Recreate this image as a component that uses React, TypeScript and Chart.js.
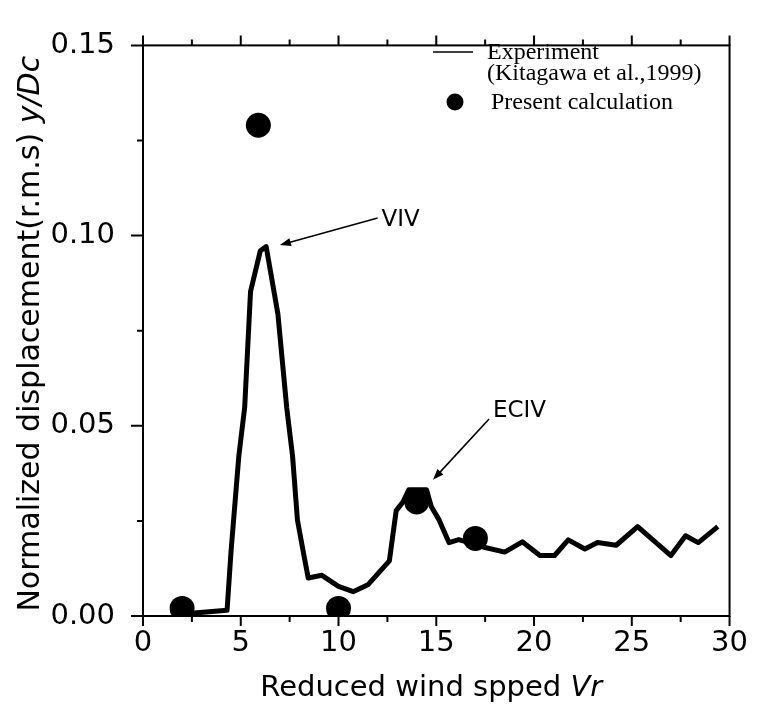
import React, { useEffect, useRef } from 'react';
import { Chart, registerables } from 'chart.js';

Chart.register(...registerables);

// Experiment (Kitagawa et al., 1999)
const expX = [2.0, 4.3, 4.5, 4.9, 5.2, 5.5, 6.0, 6.3, 6.9, 7.35, 7.65, 7.9, 8.2, 8.45, 9.15, 10.0, 10.75, 11.5, 12.6, 12.95, 13.3, 13.6, 14.5, 14.75, 15.15, 15.65, 16.15, 16.9, 17.5, 18.5, 19.4, 20.3, 21.05, 21.75, 22.6, 23.25, 24.2, 25.3, 27.0, 27.75, 28.4, 29.4];
const expY = [0.0005, 0.0015, 0.0168, 0.042, 0.0548, 0.0853, 0.096, 0.0971, 0.0794, 0.0548, 0.042, 0.0252, 0.0168, 0.010, 0.0107, 0.0078, 0.0064, 0.0082, 0.0145, 0.0277, 0.030, 0.0332, 0.0332, 0.0287, 0.0252, 0.0193, 0.0201, 0.019, 0.018, 0.0168, 0.0195, 0.0159, 0.0159, 0.020, 0.0176, 0.0193, 0.0186, 0.0235, 0.0159, 0.0211, 0.0193, 0.0235];

// Present calculation
const calcX = [2, 5.9, 10, 14, 17];
const calcY = [0.002, 0.129, 0.002, 0.030, 0.0204];

const xRange = [0, 30];
const yRange = [0, 0.15];
const xMajorStep = 5;
const xMinorStep = 2.5;
const yMajorStep = 0.05;
const yMinorStep = 0.025;

const legendLabels = ['Experiment', '(Kitagawa et al.,1999)', 'Present calculation'];

// annotation arrows (data units)
const annotTexts = ['VIV', 'ECIV'];
const annotFrom = [[12.0, 0.1046], [17.7, 0.0518]];
const annotTo = [[7.0, 0.0975], [14.83, 0.0358]];
const annotLabelAt = [[12.2, 0.1042], [17.9, 0.0540]];

const yTitleParts = [['Normalized displacement(r.m.s) ', false], ['y/Dc', true]] as [string, boolean][];
const xTitleParts = [['Reduced wind spped ', false], ['Vr', true]] as [string, boolean][];

const SANS = '"DejaVu Sans", sans-serif';
const SERIF = '"Liberation Serif", "Times New Roman", serif';

function drawMixed(ctx: CanvasRenderingContext2D, parts: [string, boolean][], size: number, cx: number, cy: number) {
  const fontOf = (it: boolean) => `${it ? 'italic ' : ''}${size}px ${SANS}`;
  let total = 0;
  const widths = parts.map(([t, it]) => {
    ctx.font = fontOf(it);
    const w = ctx.measureText(t).width;
    total += w;
    return w;
  });
  let x = cx - total / 2;
  ctx.textBaseline = 'middle';
  ctx.textAlign = 'left';
  parts.forEach(([t, it], i) => {
    ctx.font = fontOf(it);
    ctx.fillText(t, x, cy);
    x += widths[i];
  });
}

const framePlugin = {
  id: 'framePlugin',
  afterDraw(chart: any) {
    const ctx: CanvasRenderingContext2D = chart.ctx;
    const { left, right, top, bottom } = chart.chartArea;
    const xs = chart.scales.x;
    const ys = chart.scales.y;
    ctx.save();
    ctx.strokeStyle = '#000';
    ctx.fillStyle = '#000';
    ctx.lineWidth = 2;
    ctx.strokeRect(left, top, right - left, bottom - top);

    ctx.beginPath();
    for (let v = xRange[0]; v <= xRange[1] + 1e-9; v += xMinorStep) {
      const px = xs.getPixelForValue(v);
      const major = Math.abs(v / xMajorStep - Math.round(v / xMajorStep)) < 1e-6;
      const len = major ? 10 : 6;
      ctx.moveTo(px, bottom);
      ctx.lineTo(px, bottom + len);
      ctx.moveTo(px, top);
      ctx.lineTo(px, top - len);
    }
    for (let v = yRange[0]; v <= yRange[1] + 1e-9; v += yMinorStep) {
      const py = ys.getPixelForValue(v);
      const major = Math.abs(v / yMajorStep - Math.round(v / yMajorStep)) < 1e-6;
      const len = major ? 12 : 6;
      ctx.moveTo(left, py);
      ctx.lineTo(left - len, py);
    }
    ctx.stroke();

    // axis titles
    ctx.save();
    ctx.translate(31, (top + bottom) / 2 + 3);
    ctx.rotate(-Math.PI / 2);
    drawMixed(ctx, yTitleParts, 30, 0, 0);
    ctx.restore();
    drawMixed(ctx, xTitleParts, 29, (left + right) / 2 - 5, 688);

    // legend
    ctx.lineWidth = 1.5;
    ctx.beginPath();
    ctx.moveTo(433, 52);
    ctx.lineTo(473, 52);
    ctx.stroke();
    ctx.font = `24px ${SERIF}`;
    ctx.textAlign = 'left';
    ctx.textBaseline = 'alphabetic';
    ctx.fillText(legendLabels[0], 487, 59);
    ctx.fillText(legendLabels[1], 487, 80);
    ctx.beginPath();
    ctx.arc(455, 102, 8.5, 0, Math.PI * 2);
    ctx.fill();
    ctx.fillText(legendLabels[2], 491, 109);

    // annotations
    ctx.lineWidth = 1.6;
    annotTexts.forEach((txt, i) => {
      const fx = xs.getPixelForValue(annotFrom[i][0]);
      const fy = ys.getPixelForValue(annotFrom[i][1]);
      const tx = xs.getPixelForValue(annotTo[i][0]);
      const ty = ys.getPixelForValue(annotTo[i][1]);
      const ang = Math.atan2(ty - fy, tx - fx);
      ctx.beginPath();
      ctx.moveTo(fx, fy);
      ctx.lineTo(tx - Math.cos(ang) * 4, ty - Math.sin(ang) * 4);
      ctx.stroke();
      const ah = 11, aw = 4;
      ctx.beginPath();
      ctx.moveTo(tx, ty);
      ctx.lineTo(tx - ah * Math.cos(ang) + aw * Math.sin(ang), ty - ah * Math.sin(ang) - aw * Math.cos(ang));
      ctx.lineTo(tx - ah * Math.cos(ang) - aw * Math.sin(ang), ty - ah * Math.sin(ang) + aw * Math.cos(ang));
      ctx.closePath();
      ctx.fill();
      ctx.font = `23px ${SANS}`;
      ctx.textAlign = 'left';
      ctx.textBaseline = 'middle';
      ctx.fillText(txt, xs.getPixelForValue(annotLabelAt[i][0]), ys.getPixelForValue(annotLabelAt[i][1]));
    });
    ctx.restore();
  },
};

export default function App() {
  const ref = useRef<HTMLCanvasElement>(null);
  useEffect(() => {
    document.body.style.margin = '0';
    if (!ref.current) return;
    const chart = new Chart(ref.current, {
      type: 'scatter',
      data: {
        datasets: [
          {
            label: 'Experiment',
            data: expX.map((x, i) => ({ x, y: expY[i] })),
            showLine: true,
            borderColor: '#000',
            borderWidth: 5,
            pointRadius: 0,
            tension: 0,
            borderJoinStyle: 'round',
            clip: 0,
          } as any,
          {
            label: 'Present calculation',
            data: calcX.map((x, i) => ({ x, y: calcY[i] })),
            backgroundColor: '#000',
            borderColor: '#000',
            pointRadius: 12.5,
            borderWidth: 0,
            clip: 0,
          } as any,
        ],
      },
      options: {
        animation: false,
        responsive: false,
        layout: { padding: { left: 0, right: 28, top: 25, bottom: 0 } },
        plugins: { legend: { display: false }, tooltip: { enabled: false } },
        scales: {
          x: {
            type: 'linear',
            min: xRange[0],
            max: xRange[1],
            grid: { display: false, drawTicks: false },
            border: { display: false },
            ticks: {
              stepSize: xMajorStep,
              color: '#000',
              font: { family: SANS, size: 29 },
              padding: 10,
              maxRotation: 0,
            },
            afterFit: (s: any) => { s.height = 102; },
          },
          y: {
            type: 'linear',
            min: yRange[0],
            max: yRange[1],
            grid: { display: false, drawTicks: false },
            border: { display: false },
            ticks: {
              stepSize: yMajorStep,
              color: '#000',
              font: { family: SANS, size: 29 },
              padding: 28,
              callback: (v: any) => Number(v).toFixed(2),
            },
            afterFit: (s: any) => { s.width = 143; },
          },
        },
      },
      plugins: [framePlugin],
    });
    return () => chart.destroy();
  }, []);
  return (
    <div style={{ position: 'absolute', left: 0, top: 0, width: 758, height: 718, background: '#fff' }}>
      <canvas ref={ref} width={758} height={718} />
    </div>
  );
}
